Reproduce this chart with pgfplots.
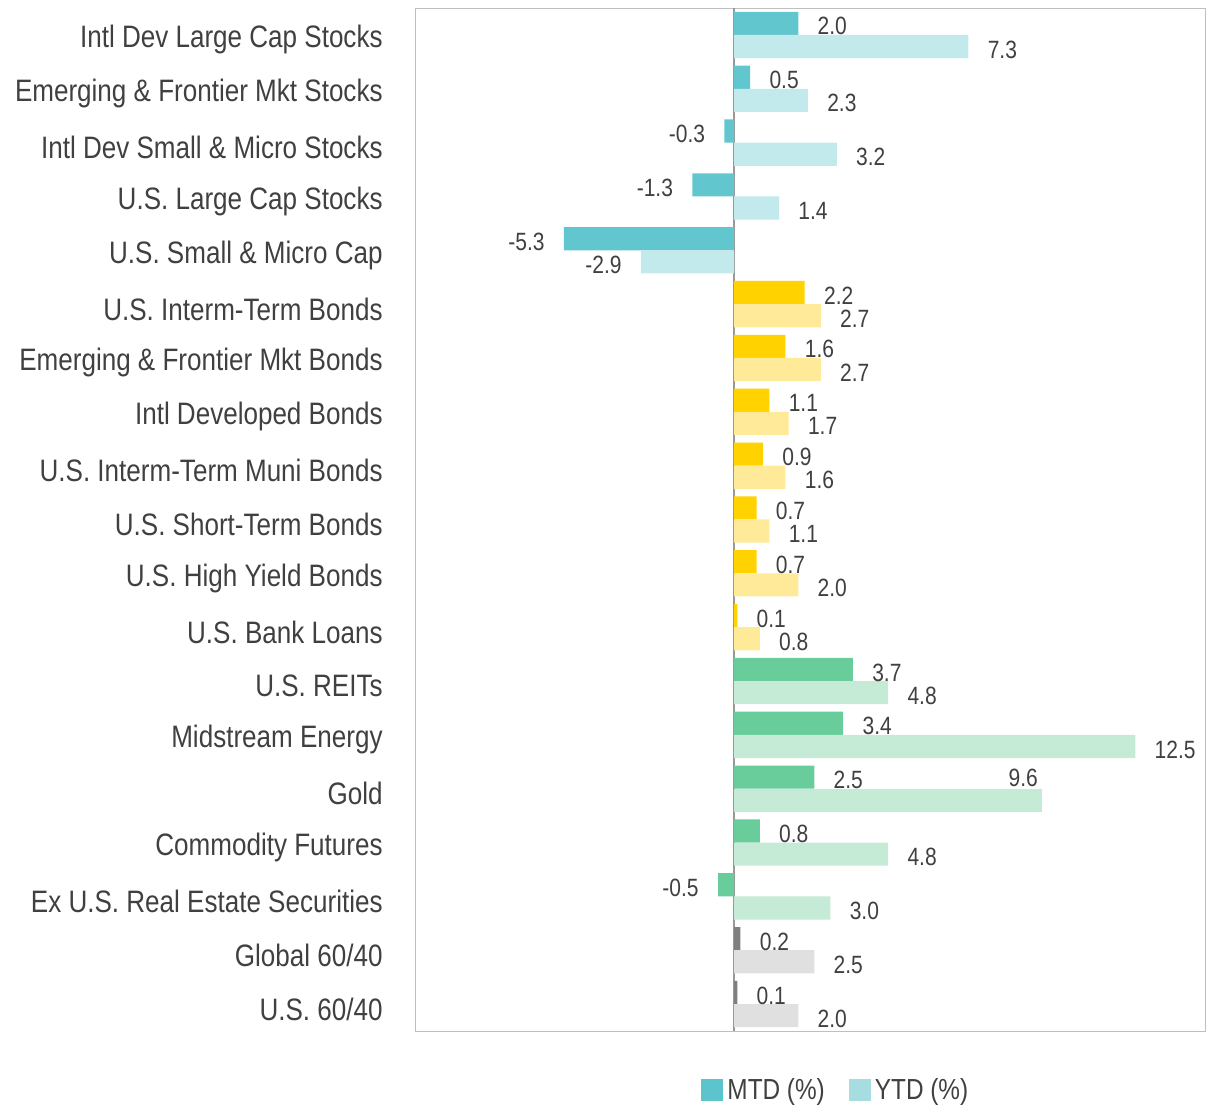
\documentclass[border=0pt]{standalone}
\usepackage{fontspec}
\setmainfont{Liberation Sans}[FakeStretch=0.84]
\usepackage{pgfplots}
\pgfplotsset{compat=1.18}
\definecolor{tealD}{RGB}{98,198,206}
\definecolor{tealL}{RGB}{194,234,236}
\definecolor{yelD}{RGB}{255,210,0}
\definecolor{yelL}{RGB}{255,234,153}
\definecolor{grnD}{RGB}{104,204,155}
\definecolor{grnL}{RGB}{197,234,214}
\definecolor{gryD}{RGB}{128,128,128}
\definecolor{gryL}{RGB}{224,224,224}
\definecolor{legD}{RGB}{92,196,204}
\definecolor{legL}{RGB}{166,221,224}
\definecolor{txt}{RGB}{64,64,64}
\begin{document}
\begin{tikzpicture}
\begin{axis}[
  name=ax,
  scale only axis, width=395pt, height=511.5pt,
  xmin=-9.94, xmax=14.67, ymin=-0.5, ymax=18.5, y dir=reverse,
  xbar, bar width=0.43,
  axis line style={draw=black!25},
  xtick=\empty,
  ytick={0,...,18},
  yticklabels={Intl Dev Large Cap Stocks, Emerging \& Frontier Mkt Stocks, Intl Dev Small \& Micro Stocks, U.S. Large Cap Stocks, U.S. Small \& Micro Cap, U.S. Interm-Term Bonds, Emerging \& Frontier Mkt Bonds, Intl Developed Bonds, U.S. Interm-Term Muni Bonds, U.S. Short-Term Bonds, U.S. High Yield Bonds, U.S. Bank Loans, U.S. REITs, Midstream Energy, Gold, Commodity Futures, Ex U.S. Real Estate Securities, Global 60/40, U.S. 60/40},
  major tick length=0pt,
  yticklabel style={font=\fontsize{15.5}{17}\selectfont, text=txt, inner xsep=0pt, xshift=-16pt, yshift=-2.5pt},
  extra x ticks={0}, extra x tick labels={},
  extra x tick style={grid=major, major grid style={black!40, line width=0.8pt}},
  nodes near coords={\pgfmathprintnumber[fixed,fixed zerofill,precision=1,assume math mode=true]{\pgfplotspointmeta}},
  nodes near coords style={font=\fontsize{12.5}{14}\selectfont, text=txt, inner xsep=9.5pt, inner ysep=0pt, yshift=-1.5pt},
  legend style={at={(0.534,-0.058)}, anchor=center, draw=none, fill=none,
    font=\fontsize{14.5}{16}\selectfont, text=txt,
    /tikz/every even column/.append style={column sep=10pt}},
  legend columns=2,
  legend image code/.code={\path[#1] (0pt,-5.5pt) rectangle (11pt,5.5pt);},
]
\addlegendimage{fill=legD, draw=none}
\addlegendentry{MTD (\%)}
\addlegendimage{fill=legL, draw=none}
\addlegendentry{YTD (\%)}
% Stocks
\addplot[fill=tealD, draw=none, bar shift=-0.215, forget plot] coordinates {(2.0,0) (0.5,1) (-0.3,2) (-1.3,3) (-5.3,4)};
\addplot[fill=tealL, draw=none, bar shift=0.215, forget plot] coordinates {(7.3,0) (2.3,1) (3.2,2) (1.4,3) (-2.9,4)};
% Bonds
\addplot[fill=yelD, draw=none, bar shift=-0.215, forget plot] coordinates {(2.2,5) (1.6,6) (1.1,7) (0.9,8) (0.7,9) (0.7,10) (0.1,11)};
\addplot[fill=yelL, draw=none, bar shift=0.215, forget plot] coordinates {(2.7,5) (2.7,6) (1.7,7) (1.6,8) (1.1,9) (2.0,10) (0.8,11)};
% Real assets
\addplot[fill=grnD, draw=none, bar shift=-0.215, forget plot] coordinates {(3.7,12) (3.4,13) (2.5,14) (0.8,15) (-0.5,16)};
\addplot[fill=grnL, draw=none, bar shift=0.215, forget plot] coordinates {(4.8,12) (12.5,13) (4.8,15) (3.0,16)};
\addplot[fill=grnL, draw=none, bar shift=0.215, forget plot,
  every node near coord/.append style={anchor=south east, inner xsep=2pt, yshift=8pt}] coordinates {(9.6,14)};
% Balanced
\addplot[fill=gryD, draw=none, bar shift=-0.215, forget plot] coordinates {(0.2,17) (0.1,18)};
\addplot[fill=gryL, draw=none, bar shift=0.215, forget plot] coordinates {(2.5,17) (2.0,18)};
\end{axis}
\pgfresetboundingbox
\path[use as bounding box] ([xshift=-207.5pt,yshift=-37pt]ax.south west) rectangle ([xshift=0.5pt,yshift=4pt]ax.north east);
\end{tikzpicture}
\end{document}
